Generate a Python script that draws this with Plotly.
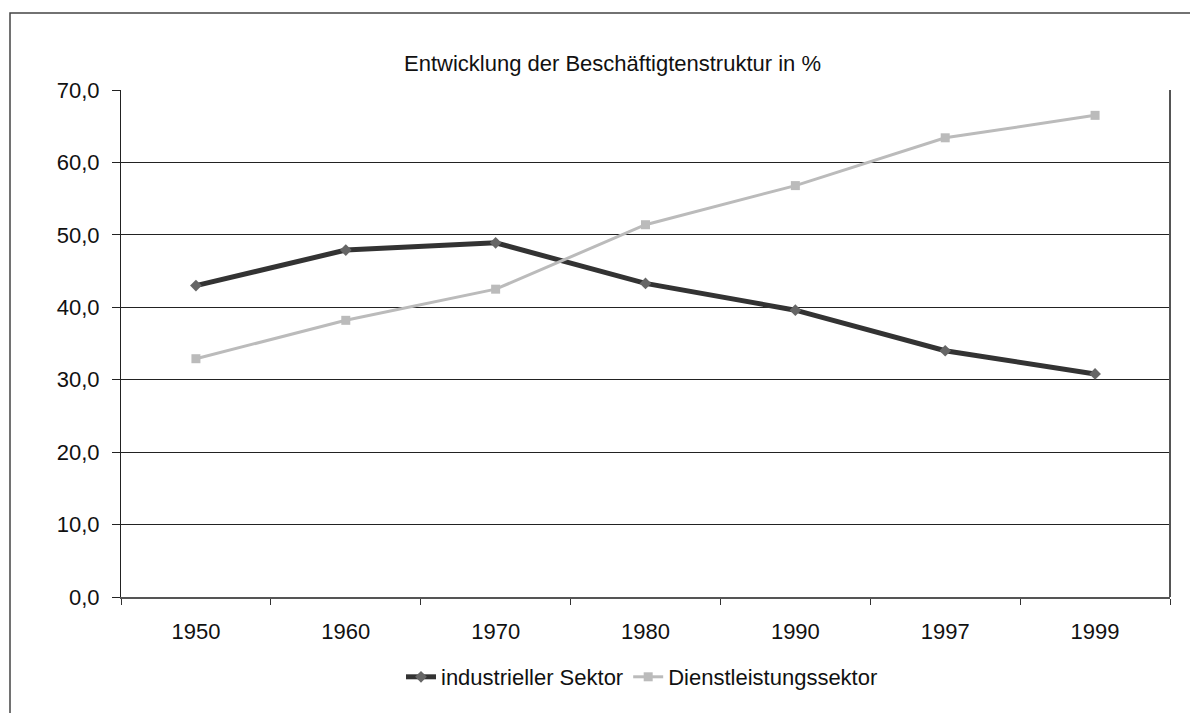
import plotly.graph_objects as go

years = ["1950", "1960", "1970", "1980", "1990", "1997", "1999"]
industrie = [43.0, 47.9, 48.9, 43.3, 39.6, 34.0, 30.8]
dienst = [32.9, 38.2, 42.5, 51.4, 56.8, 63.4, 66.5]
y_ticks = [0, 10, 20, 30, 40, 50, 60, 70]
y_labels = ["0,0", "10,0", "20,0", "30,0", "40,0", "50,0", "60,0", "70,0"]

OFF = 8  # default body margin of the page
W, H = 1198 - OFF, 713 - OFF
L, R, T, B = 121, 1170, 90, 597  # plot area in page pixels

fig = go.Figure()
fig.add_trace(go.Scatter(
    x=years, y=industrie, name="industrieller Sektor", mode="lines+markers",
    line=dict(color="#333333", width=5),
    marker=dict(symbol="diamond", size=9, color="#666666"),
))
fig.add_trace(go.Scatter(
    x=years, y=dienst, name="Dienstleistungssektor", mode="lines+markers",
    line=dict(color="#bbbbbb", width=3),
    marker=dict(symbol="square", size=9, color="#bbbbbb"),
))

def px_x(p):
    return (p - L) / (R - L)

def px_y(p):
    return (B - p) / (B - T)

fig.update_layout(
    width=W, height=H,
    margin=dict(l=L - OFF, r=W - (R - OFF), t=T - OFF, b=H - (B - OFF), pad=0),
    paper_bgcolor="white", plot_bgcolor="white",
    font=dict(family="Liberation Sans, Arial, sans-serif", size=22, color="#111111"),
    showlegend=True,
    legend=dict(orientation="h", x=px_x(642), xanchor="center", y=px_y(677), yanchor="middle",
                font=dict(size=22), tracegroupgap=0),
    xaxis=dict(
        type="category", range=[-0.5, 6.5], tickson="boundaries",
        ticks="outside", ticklen=6, tickcolor="#333333",
        showline=True, linecolor="#555555", linewidth=2,
        showgrid=False, zeroline=False, fixedrange=True,
        ticklabelstandoff=14,
    ),
    yaxis=dict(
        range=[0, 70], tickvals=y_ticks, ticktext=y_labels,
        ticks="outside", ticklen=8, tickcolor="#222222",
        showline=True, linecolor="#222222", linewidth=1, mirror=False,
        showgrid=True, gridcolor="#222222", gridwidth=1, zeroline=False,
        fixedrange=True, ticklabelstandoff=8,
    ),
    annotations=[dict(
        text="Entwicklung der Beschäftigtenstruktur in %", xref="paper", yref="paper",
        x=px_x(612), y=px_y(64), xanchor="center", yanchor="middle",
        showarrow=False, font=dict(size=22),
    )],
    shapes=[
        dict(type="rect", xref="paper", yref="paper",
             x0=px_x(10), x1=px_x(1197), y0=px_y(760), y1=px_y(13),
             line=dict(color="#444444", width=1.5), layer="below"),
        dict(type="line", xref="paper", yref="paper",
             x0=1, x1=1, y0=0, y1=1, line=dict(color="#555555", width=2)),
    ],
)

fig.write_html("out.html")
